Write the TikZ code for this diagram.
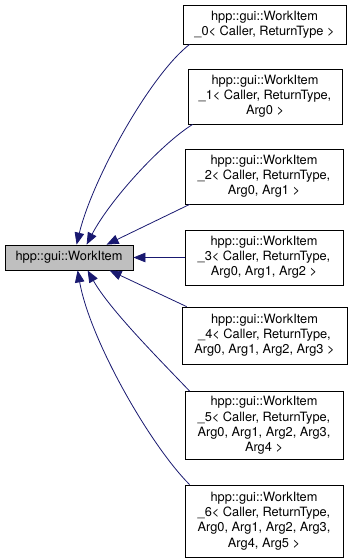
\documentclass[tikz,border=0pt]{standalone}
\usepackage{fontspec}
\setmainfont{TeX Gyre Heros}
\usetikzlibrary{arrows.meta}
\definecolor{edgeblue}{HTML}{191970}
\definecolor{basegray}{HTML}{BFBFBF}
\begin{document}
\begin{tikzpicture}[x=1pt,y=1pt,
  cls/.style={draw=black, line width=0.8pt, fill=white, align=center,
    inner sep=0pt, font=\fontsize{12.8}{15.2}\selectfont},
  basecls/.style={cls, fill=basegray},
  edge/.style={draw=edgeblue, line width=0.8pt,
    -{Triangle[length=12pt,width=9.5pt]}}]
\useasboundingbox (0,0) rectangle (352,-560);

% base class
\node[basecls, minimum width=128pt, minimum height=25pt] (base) at (69,-257.5) {hpp::gui::WorkItem};

% derived templates
\node[cls, minimum width=163pt, minimum height=39pt] (w0) at (264.5,-24.5)
  {hpp::gui::WorkItem\\\_0< Caller, ReturnType >};
\node[cls, minimum width=154pt, minimum height=55pt] (w1) at (265,-96.5)
  {hpp::gui::WorkItem\\\_1< Caller, ReturnType,\\Arg0 >};
\node[cls, minimum width=158pt, minimum height=55pt] (w2) at (264,-176.5)
  {hpp::gui::WorkItem\\\_2< Caller, ReturnType,\\Arg0, Arg1 >};
\node[cls, minimum width=158pt, minimum height=55pt] (w3) at (264,-257.5)
  {hpp::gui::WorkItem\\\_3< Caller, ReturnType,\\Arg0, Arg1, Arg2 >};
\node[cls, minimum width=165pt, minimum height=57pt] (w4) at (264.5,-335.5)
  {hpp::gui::WorkItem\\\_4< Caller, ReturnType,\\Arg0, Arg1, Arg2, Arg3 >};
\node[cls, minimum width=158pt, minimum height=68pt] (w5) at (264,-425.5)
  {hpp::gui::WorkItem\\\_5< Caller, ReturnType,\\Arg0, Arg1, Arg2, Arg3,\\Arg4 >};
\node[cls, minimum width=158pt, minimum height=72pt] (w6) at (264,-521)
  {hpp::gui::WorkItem\\\_6< Caller, ReturnType,\\Arg0, Arg1, Arg2, Arg3,\\Arg4, Arg5 >};

% inheritance edges
\draw[edge] ([xshift=7pt]w0.south west) .. controls (150,-75) and (92,-180) .. ([xshift=72pt]base.north west);
\draw[edge] ([xshift=5pt]w1.south west) .. controls (160,-145) and (110,-200) .. ([xshift=82pt]base.north west);
\draw[edge] ([xshift=5pt]w2.south west) -- ([xshift=102pt]base.north west);
\draw[edge] (w3.west) -- (base.east);
\draw[edge] ([xshift=5pt]w4.north west) -- ([xshift=105pt]base.south west);
\draw[edge] ([xshift=5pt]w5.north west) .. controls (160,-360) and (110,-310) .. ([xshift=83pt]base.south west);
\draw[edge] ([xshift=5pt]w6.north west) .. controls (150,-445) and (90,-340) .. ([xshift=73pt]base.south west);
\end{tikzpicture}
\end{document}
